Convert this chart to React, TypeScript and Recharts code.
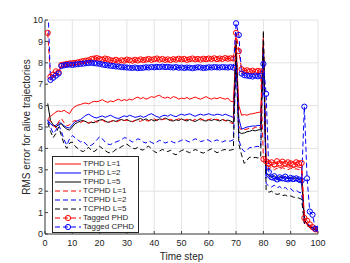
import React from 'react';
import { LineChart, Line, XAxis, YAxis, CartesianGrid, Legend } from 'recharts';

const FONT = '"Liberation Sans", Arial, Helvetica, sans-serif';
const TEXT = '#262626';

const steps: number[] = Array.from({ length: 100 }, (_, i) => i + 1);
const xTicks = [0, 10, 20, 30, 40, 50, 60, 70, 80, 90, 100];
const yTicks = [0, 1, 2, 3, 4, 5, 6, 7, 8, 9, 10];

const tphdL1 = [
  5.38, 5.50, 5.60, 5.70, 5.75, 5.72, 5.78, 5.70, 5.62, 5.85,
  5.95, 6.02, 6.05, 6.10, 6.12, 6.08, 6.15, 6.20, 6.18, 6.22,
  6.28, 6.20, 6.15, 6.22, 6.18, 6.25, 6.30, 6.22, 6.28, 6.24,
  6.30, 6.26, 6.35, 6.40, 6.32, 6.38, 6.30, 6.35, 6.42, 6.38,
  6.45, 6.48, 6.38, 6.35, 6.40, 6.33, 6.42, 6.38, 6.30, 6.35,
  6.32, 6.38, 6.30, 6.35, 6.40, 6.34, 6.30, 6.36, 6.42, 6.35,
  6.30, 6.36, 6.32, 6.38, 6.34, 6.30, 6.35, 6.20, 6.18, 8.60,
  6.00, 5.55, 5.58, 5.55, 5.60, 5.62, 5.65, 5.68, 5.70, 8.80,
  3.20, 3.15, 3.20, 3.12, 3.18, 3.10, 3.15, 3.20, 3.12, 3.15,
  3.10, 3.15, 3.12, 3.10, 0.60, 0.45, 0.35, 0.28, 0.22, 0.20,
];
const tphdL2 = [
  5.32, 5.15, 5.05, 5.08, 5.20, 5.18, 5.05, 4.98, 4.95, 5.10,
  5.25, 5.30, 5.35, 5.45, 5.55, 5.60, 5.52, 5.45, 5.42, 5.48,
  5.52, 5.45, 5.50, 5.55, 5.48, 5.42, 5.40, 5.46, 5.52, 5.48,
  5.55, 5.50, 5.45, 5.48, 5.52, 5.45, 5.50, 5.58, 5.62, 5.55,
  5.48, 5.45, 5.52, 5.55, 5.50, 5.58, 5.52, 5.48, 5.55, 5.60,
  5.55, 5.58, 5.62, 5.55, 5.50, 5.56, 5.60, 5.55, 5.58, 5.62,
  5.57, 5.55, 5.60, 5.58, 5.54, 5.60, 5.55, 5.50, 5.45, 8.30,
  5.40, 4.90, 4.95, 5.00, 5.02, 5.05, 5.04, 5.08, 5.06, 8.50,
  2.75, 2.60, 2.55, 2.50, 2.55, 2.48, 2.52, 2.45, 2.50, 2.48,
  2.45, 2.50, 2.42, 2.45, 0.65, 0.50, 0.38, 0.30, 0.25, 0.22,
];
const tphdL5 = [
  6.10, 5.30, 5.10, 5.00, 5.12, 5.15, 5.00, 4.90, 4.85, 5.00,
  5.15, 5.22, 5.28, 5.30, 5.25, 5.18, 5.22, 5.20, 5.28, 5.32,
  5.35, 5.28, 5.22, 5.25, 5.30, 5.26, 5.32, 5.35, 5.30, 5.35,
  5.28, 5.25, 5.30, 5.35, 5.40, 5.32, 5.38, 5.30, 5.35, 5.28,
  5.32, 5.38, 5.35, 5.42, 5.36, 5.30, 5.28, 5.34, 5.30, 5.38,
  5.32, 5.28, 5.35, 5.30, 5.26, 5.32, 5.40, 5.30, 5.28, 5.34,
  5.30, 5.36, 5.32, 5.28, 5.35, 5.30, 5.32, 5.28, 5.20, 8.80,
  4.75, 4.70, 4.72, 4.78, 4.80, 4.85, 4.82, 4.86, 4.88, 9.00,
  2.85, 2.70, 2.65, 2.72, 2.60, 2.68, 2.62, 2.70, 2.58, 2.65,
  2.60, 2.62, 2.55, 2.58, 0.70, 0.45, 0.35, 0.28, 0.22, 0.20,
];
const tcphdL1 = [
  5.35, 5.30, 5.10, 4.95, 5.25, 5.40, 5.20, 5.05, 5.10, 5.25,
  5.30, 5.25, 5.20, 5.28, 5.22, 5.18, 5.25, 5.30, 5.22, 5.28,
  5.32, 5.25, 5.20, 5.26, 5.30, 5.24, 5.28, 5.35, 5.30, 5.32,
  5.28, 5.25, 5.32, 5.30, 5.26, 5.35, 5.30, 5.28, 5.34, 5.38,
  5.32, 5.30, 5.35, 5.38, 5.32, 5.36, 5.30, 5.34, 5.38, 5.35,
  5.32, 5.36, 5.34, 5.30, 5.35, 5.38, 5.33, 5.36, 5.32, 5.35,
  5.38, 5.34, 5.36, 5.32, 5.35, 5.30, 5.25, 5.20, 5.15, 9.30,
  5.00, 4.85, 4.88, 4.90, 4.95, 4.92, 4.98, 5.00, 4.95, 9.40,
  3.10, 3.05, 3.12, 3.00, 3.08, 3.02, 3.10, 3.05, 3.00, 3.08,
  3.02, 3.05, 3.00, 3.02, 0.55, 0.42, 0.32, 0.25, 0.20, 0.18,
];
const tcphdL2 = [
  5.30, 5.00, 4.70, 4.85, 5.10, 4.80, 4.40, 4.15, 4.45, 4.60,
  4.50, 4.40, 4.30, 4.35, 4.20, 4.10, 4.15, 4.25, 4.40, 4.55,
  4.45, 4.30, 4.20, 4.18, 4.25, 4.30, 4.35, 4.40, 4.50, 4.48,
  4.38, 4.30, 4.35, 4.45, 4.40, 4.30, 4.25, 4.35, 4.28, 4.22,
  4.30, 4.38, 4.32, 4.25, 4.30, 4.35, 4.28, 4.25, 4.32, 4.38,
  4.42, 4.35, 4.30, 4.38, 4.45, 4.40, 4.32, 4.35, 4.42, 4.38,
  4.30, 4.35, 4.40, 4.33, 4.30, 4.36, 4.32, 4.35, 4.40, 8.00,
  4.40, 4.00, 3.85, 3.90, 4.05, 4.02, 4.08, 4.10, 4.05, 8.70,
  2.35, 2.25, 2.20, 2.28, 2.15, 2.22, 2.10, 2.18, 2.05, 2.12,
  2.00, 2.05, 1.95, 1.92, 0.50, 0.40, 0.32, 0.25, 0.20, 0.18,
];
const tcphdL5 = [
  5.20, 4.80, 4.50, 4.70, 5.00, 4.60, 4.20, 4.00, 4.25, 4.30,
  4.10, 4.00, 3.90, 3.85, 3.95, 4.05, 3.90, 3.85, 3.95, 4.10,
  4.00, 3.90, 3.82, 3.78, 3.85, 3.95, 4.00, 4.08, 4.15, 4.20,
  4.10, 4.02, 3.98, 4.05, 3.95, 3.92, 4.05, 4.10, 3.98, 3.85,
  3.80, 3.88, 3.95, 3.90, 3.85, 3.92, 3.75, 3.70, 3.82, 3.90,
  3.95, 3.85, 3.80, 3.88, 3.95, 3.90, 3.82, 3.78, 3.85, 3.92,
  3.98, 3.88, 3.80, 3.85, 3.92, 3.95, 3.90, 3.92, 3.95, 9.00,
  4.20, 3.70, 3.30, 3.45, 3.60, 3.55, 3.58, 3.55, 3.60, 9.50,
  2.05, 1.95, 2.00, 1.90, 1.85, 1.88, 1.80, 1.82, 1.75, 1.78,
  1.72, 1.70, 1.68, 1.62, 0.50, 0.40, 0.30, 0.24, 0.20, 0.18,
];
const taggedPhd = [
  9.40, 7.35, 7.45, 7.60, 7.55, 7.90, 7.92, 7.95, 7.97, 7.98,
  8.00, 8.02, 8.05, 8.08, 8.10, 8.12, 8.18, 8.20, 8.22, 8.18,
  8.15, 8.20, 8.17, 8.12, 8.10, 8.14, 8.09, 8.12, 8.10, 8.15,
  8.12, 8.10, 8.14, 8.11, 8.16, 8.13, 8.15, 8.18, 8.14, 8.17,
  8.20, 8.15, 8.18, 8.14, 8.16, 8.13, 8.17, 8.15, 8.19, 8.16,
  8.18, 8.14, 8.17, 8.20, 8.16, 8.18, 8.15, 8.19, 8.17, 8.20,
  8.18, 8.21, 8.17, 8.20, 8.18, 8.22, 8.19, 8.21, 8.20, 9.40,
  8.55, 7.70, 7.62, 7.65, 7.60, 7.63, 7.58, 7.62, 7.60, 3.50,
  3.40, 3.30, 3.35, 3.25, 3.40, 3.30, 3.38, 3.28, 3.35, 3.30,
  3.25, 3.35, 3.30, 3.32, 0.75, 0.62, 0.45, 0.32, 0.22, 0.20,
];
const taggedCphd = [
  11.0, 7.20, 7.30, 7.40, 7.50, 7.85, 7.88, 7.90, 7.92, 7.90,
  7.92, 7.93, 7.95, 7.96, 7.98, 7.99, 8.00, 7.98, 7.97, 7.95,
  7.92, 7.90, 7.88, 7.86, 7.85, 7.83, 7.82, 7.80, 7.79, 7.78,
  7.77, 7.76, 7.78, 7.75, 7.76, 7.77, 7.79, 7.78, 7.80, 7.79,
  7.81, 7.80, 7.82, 7.80, 7.81, 7.79, 7.78, 7.80, 7.77, 7.78,
  7.76, 7.78, 7.77, 7.75, 7.77, 7.79, 7.78, 7.76, 7.77, 7.79,
  7.78, 7.80, 7.79, 7.78, 7.80, 7.79, 7.78, 7.80, 7.78, 9.85,
  9.30, 7.50, 7.42, 7.40, 7.38, 7.36, 7.40, 7.37, 7.40, 7.95,
  6.55, 2.90, 2.65, 2.70, 2.55, 2.65, 2.60, 2.68, 2.55, 2.62,
  2.58, 2.60, 2.55, 2.50, 5.95, 2.60, 1.05, 0.90, 0.25, 0.25,
];

const DASH = '5 3';

const SERIES = [
  { key: 'tphdL1', name: 'TPHD L=1', color: '#ff0000', dash: undefined as string | undefined, marker: false },
  { key: 'tphdL2', name: 'TPHD L=2', color: '#0000ff', dash: undefined, marker: false },
  { key: 'tphdL5', name: 'TPHD L=5', color: '#000000', dash: undefined, marker: false },
  { key: 'tcphdL1', name: 'TCPHD L=1', color: '#ff0000', dash: DASH, marker: false },
  { key: 'tcphdL2', name: 'TCPHD L=2', color: '#0000ff', dash: DASH, marker: false },
  { key: 'tcphdL5', name: 'TCPHD L=5', color: '#000000', dash: DASH, marker: false },
  { key: 'taggedPhd', name: 'Tagged PHD', color: '#ff0000', dash: DASH, marker: true },
  { key: 'taggedCphd', name: 'Tagged CPHD', color: '#0000ff', dash: DASH, marker: true },
];

const data = steps.map((t, i) => ({
  t,
  tphdL1: tphdL1[i],
  tphdL2: tphdL2[i],
  tphdL5: tphdL5[i],
  tcphdL1: tcphdL1[i],
  tcphdL2: tcphdL2[i],
  tcphdL5: tcphdL5[i],
  taggedPhd: taggedPhd[i],
  taggedCphd: taggedCphd[i],
}));

const LegendBox = () => (
  <div
    style={{
      border: '1px solid #262626',
      background: '#fff',
      padding: '2.5px 4px 0.5px 2px',
      fontFamily: FONT,
      fontSize: 8,
      color: TEXT,
      lineHeight: 1,
    }}
  >
    {SERIES.map((s) => (
      <div key={s.key} style={{ display: 'flex', alignItems: 'center', height: 9 }}>
        <svg width={26} height={8} style={{ display: 'block' }}>
          <line x1={0} y1={4} x2={26} y2={4} stroke={s.color} strokeWidth={1} strokeDasharray={s.dash} />
          {s.marker && <circle cx={13} cy={4} r={2.6} stroke={s.color} strokeWidth={1} fill="none" />}
        </svg>
        <span style={{ marginLeft: 2, whiteSpace: 'nowrap' }}>{s.name}</span>
      </div>
    ))}
  </div>
);

const YLabel = (props: any) => {
  const vb = props.viewBox || {};
  const cx = vb.x + vb.width / 2 + 4;
  const cy = vb.y + vb.height / 2;
  return (
    <text
      x={cx}
      y={cy}
      transform={`rotate(-90, ${cx}, ${cy})`}
      textAnchor="middle"
      dominantBaseline="central"
      fontFamily={FONT}
      fontSize={10}
      fill={TEXT}
    >
      RMS error for alive trajectories
    </text>
  );
};

export default function App() {
  return (
    <div style={{ position: 'absolute', left: 0, top: 0, width: 350, height: 263, background: '#fff' }}>
      <LineChart width={350} height={263} data={data} margin={{ top: 20, right: 32, bottom: 0, left: 0 }}>
        <CartesianGrid stroke="#e3e3e3" strokeWidth={1} />
        <XAxis
          dataKey="t"
          type="number"
          domain={[0, 100]}
          ticks={xTicks}
          allowDataOverflow
          height={29}
          tickSize={-3}
          tickMargin={9}
          stroke="#404040"
          tick={{ fontSize: 9, fill: TEXT, fontFamily: FONT }}
          label={{ value: 'Time step', position: 'insideBottom', offset: 3, fontSize: 10, fill: TEXT, fontFamily: FONT }}
        />
        <XAxis xAxisId="top" dataKey="t" type="number" domain={[0, 100]} orientation="top" height={0} tick={false} tickLine={false} stroke="#404040" />
        <YAxis
          type="number"
          domain={[0, 10]}
          ticks={yTicks}
          allowDataOverflow
          width={45}
          tickSize={-3}
          tickMargin={5}
          stroke="#404040"
          tick={{ fontSize: 9, fill: TEXT, fontFamily: FONT }}
          label={<YLabel />}
        />
        <YAxis yAxisId="right" type="number" domain={[0, 10]} orientation="right" width={0} tick={false} tickLine={false} stroke="#404040" />
        {SERIES.map((s) => (
          <Line
            key={s.key}
            dataKey={s.key}
            name={s.name}
            type="linear"
            stroke={s.color}
            strokeWidth={1}
            strokeDasharray={s.dash}
            isAnimationActive={false}
            dot={s.marker ? { r: 2.6, stroke: s.color, strokeWidth: 1, fill: 'none', strokeDasharray: 'none' } : false}
            activeDot={false}
          />
        ))}
        <Legend
          layout="vertical"
          align="center"
          verticalAlign="middle"
          content={<LegendBox />}
          wrapperStyle={{ position: 'absolute', left: 52, top: 156, width: 'auto', height: 'auto' }}
        />
      </LineChart>
    </div>
  );
}
